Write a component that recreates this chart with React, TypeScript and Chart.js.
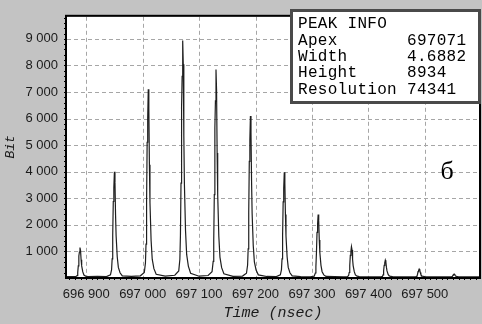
import React, { useEffect, useRef } from "react";
import { Chart, registerables } from "chart.js";

Chart.register(...registerables);

// Time axis (ns) and intensity (Bit)
const timeNs = [
  696866,
  696875, 696882, 696884, 696885, 696886, 696887, 696888, 696889, 696890, 696891, 696892, 696894, 696896, 696899, 696903,
  696920,
  696936, 696943, 696945, 696946, 696947, 696948, 696949, 696950, 696951, 696952, 696953, 696955, 696957, 696960, 696964,
  696980,
  696996, 697003, 697005, 697006, 697007, 697008, 697009, 697010, 697011, 697012, 697013, 697015, 697017, 697020, 697024,
  697040,
  697057, 697064, 697066, 697067, 697068, 697069, 697070, 697071, 697072, 697073, 697074, 697076, 697078, 697081, 697085,
  697100,
  697116, 697123, 697125, 697126, 697127, 697128, 697129, 697130, 697131, 697132, 697133, 697135, 697137, 697140, 697144,
  697160,
  697177, 697184, 697186, 697187, 697188, 697189, 697190, 697191, 697192, 697193, 697194, 697196, 697198, 697201, 697205,
  697220,
  697237, 697244, 697246, 697247, 697248, 697249, 697250, 697251, 697252, 697253, 697254, 697256, 697258, 697261, 697265,
  697280,
  697297, 697304, 697306, 697307, 697308, 697309, 697310, 697311, 697312, 697313, 697314, 697316, 697318, 697321, 697325,
  697340,
  697356, 697363, 697365, 697366, 697367, 697368, 697369, 697370, 697371, 697372, 697373, 697375, 697377, 697380, 697384,
  697400,
  697416, 697423, 697425, 697426, 697427, 697428, 697429, 697430, 697431, 697432, 697433, 697435, 697437, 697440, 697444,
  697460,
  697476, 697483, 697485, 697486, 697487, 697488, 697489, 697490, 697491, 697492, 697493, 697495, 697497, 697500, 697504,
  697520,
  697538, 697545, 697547, 697548, 697549, 697550, 697551, 697552, 697553, 697554, 697555, 697557, 697559, 697562, 697566,
  697580, 697596,
];

const bits = [
  55,
  55, 60, 95, 210, 460, 830, 980, 1150, 1030, 690, 460, 230, 115, 70, 55,
  60,
  55, 120, 320, 720, 1600, 2880, 3400, 4000, 3600, 2400, 1600, 800, 400, 200, 80,
  65,
  85, 210, 570, 1280, 2840, 5110, 6040, 7100, 6390, 4260, 2840, 1420, 710, 355, 140,
  70,
  105, 270, 710, 1610, 3570, 6430, 7590, 8934, 8040, 5360, 3570, 1790, 890, 450, 180,
  70,
  95, 240, 630, 1410, 3140, 5650, 6670, 7850, 7070, 4710, 3140, 1570, 790, 390, 160,
  65,
  75, 180, 490, 1100, 2440, 4390, 5190, 6100, 5490, 3660, 2440, 1220, 610, 305, 120,
  60,
  55, 120, 320, 720, 1590, 2870, 3380, 3980, 3580, 2390, 1590, 800, 400, 200, 80,
  55,
  50, 70, 190, 430, 960, 1720, 2030, 2390, 2150, 1430, 960, 480, 240, 120, 60,
  55,
  50, 55, 95, 210, 470, 850, 1000, 1180, 1060, 710, 470, 240, 120, 70, 55,
  50,
  50, 52, 60, 120, 270, 480, 570, 670, 600, 400, 270, 135, 80, 60, 50,
  50,
  50, 50, 55, 70, 135, 245, 290, 340, 305, 205, 135, 75, 60, 52, 50,
  50,
  50, 50, 50, 55, 65, 110, 130, 150, 135, 95, 70, 58, 52, 50, 50,
  50, 50,
];

const xTicks = [696900, 697000, 697100, 697200, 697300, 697400, 697500];
const yTicks = [1000, 2000, 3000, 4000, 5000, 6000, 7000, 8000, 9000];

const infoTitle = "PEAK INFO";
const infoLabels = ["Apex", "Width", "Height", "Resolution"];
const infoValues = ["697071", "4.6882", "8934", "74341"];
const panelLetter = "б";

const fmt = (v: number) => {
  const s = String(Math.round(v));
  return s.replace(/\B(?=(\d{3})+(?!\d))/g, " ");
};

const framePlugin = {
  id: "framePlugin",
  beforeDraw(chart: any) {
    const { ctx, chartArea: a } = chart;
    ctx.save();
    ctx.fillStyle = "#c3c3c3";
    ctx.fillRect(0, 0, chart.width, chart.height);
    ctx.fillStyle = "#ffffff";
    ctx.fillRect(a.left, a.top, a.right - a.left, a.bottom - a.top);
    ctx.restore();
  },
  beforeDatasetsDraw(chart: any) {
    const { ctx, chartArea: a, scales } = chart;
    ctx.save();
    ctx.strokeStyle = "#a6a6a6";
    ctx.lineWidth = 1;
    ctx.setLineDash([4, 3]);
    xTicks.forEach((t) => {
      const px = Math.round(scales.x.getPixelForValue(t)) + 0.5;
      ctx.beginPath();
      ctx.moveTo(px, a.top);
      ctx.lineTo(px, a.bottom);
      ctx.stroke();
    });
    yTicks.forEach((v) => {
      const py = Math.round(scales.y.getPixelForValue(v)) + 0.5;
      ctx.beginPath();
      ctx.moveTo(a.left, py);
      ctx.lineTo(a.right, py);
      ctx.stroke();
    });
    ctx.restore();
  },
  afterDatasetsDraw(chart: any) {
    const { ctx, chartArea: a, scales } = chart;
    ctx.save();
    ctx.strokeStyle = "#000000";
    ctx.lineWidth = 2;
    ctx.strokeRect(a.left - 1, a.top - 1, a.right - a.left + 2, a.bottom - a.top + 2);
    ctx.lineWidth = 1;
    const xs = scales.x;
    for (let t = Math.ceil(xs.min / 10) * 10; t <= xs.max; t += 10) {
      const px = Math.round(xs.getPixelForValue(t)) + 0.5;
      ctx.beginPath();
      ctx.moveTo(px, a.bottom);
      ctx.lineTo(px, a.bottom + 3);
      ctx.stroke();
    }
    const ys = scales.y;
    for (let v = 200; v <= ys.max; v += 200) {
      const py = Math.round(ys.getPixelForValue(v)) + 0.5;
      ctx.beginPath();
      ctx.moveTo(a.left - 3, py);
      ctx.lineTo(a.left, py);
      ctx.stroke();
    }

    const bx = 290, by = 9, bw = 191, bh = 95;
    ctx.fillStyle = "#ffffff";
    ctx.fillRect(bx, by, bw, bh);
    ctx.strokeStyle = "#4a4a4a";
    ctx.lineWidth = 3;
    ctx.strokeRect(bx + 1.5, by + 1.5, bw - 3, bh - 3);
    ctx.fillStyle = "#000000";
    ctx.font = '16px "Liberation Mono", "DejaVu Sans Mono", monospace';
    try { (ctx as any).letterSpacing = "0.3px"; } catch (e) {}
    ctx.textBaseline = "alphabetic";
    ctx.textAlign = "left";
    ctx.fillText(infoTitle, 298, 28);
    const rows = [44.5, 61, 77, 93.5];
    infoLabels.forEach((l, i) => {
      ctx.fillText(l, 298, rows[i]);
      ctx.fillText(infoValues[i], 407, rows[i]);
    });
    try { (ctx as any).letterSpacing = "0px"; } catch (e) {}

    ctx.font = '26px "Liberation Serif", serif';
    ctx.textAlign = "center";
    ctx.textBaseline = "middle";
    ctx.fillText(panelLetter, 447, 172);
    ctx.restore();
  },
};

export default function App() {
  const ref = useRef<HTMLCanvasElement | null>(null);
  useEffect(() => {
    document.body.style.margin = "0";
    const canvas = ref.current;
    if (!canvas) return;
    const data = timeNs.map((t, i) => ({ x: t, y: bits[i] }));
    const chart = new Chart(canvas, {
      type: "line",
      data: {
        datasets: [
          {
            data,
            borderColor: "#1e1e1e",
            borderWidth: 1.2,
            pointRadius: 0,
            tension: 0,
            fill: false,
          },
        ],
      },
      options: {
        animation: false,
        responsive: false,
        devicePixelRatio: 1,
        layout: { padding: { top: 7, right: 3, left: 0, bottom: 0 } },
        plugins: { legend: { display: false }, tooltip: { enabled: false } },
        scales: {
          x: {
            type: "linear",
            min: 696866,
            max: 697596,
            afterBuildTicks: (s: any) => {
              s.ticks = xTicks.map((v) => ({ value: v }));
            },
            afterFit: (s: any) => {
              s.height = 47;
            },
            border: { display: false },
            grid: { display: false, drawTicks: false },
            ticks: {
              padding: 10,
              maxRotation: 0,
              autoSkip: false,
              color: "#1a1a1a",
              font: { family: '"Liberation Sans", Arial, sans-serif', size: 13 },
              callback: (v: any) => fmt(Number(v)),
            },
            title: {
              display: true,
              text: "Time (nsec)",
              color: "#1a1a1a",
              padding: { top: 0, bottom: 2 },
              font: { family: '"Liberation Mono", monospace', size: 15, style: "italic" },
            },
          },
          y: {
            type: "linear",
            min: 40,
            max: 9830,
            afterBuildTicks: (s: any) => {
              s.ticks = yTicks.map((v) => ({ value: v }));
            },
            afterFit: (s: any) => {
              s.width = 67;
            },
            border: { display: false },
            grid: { display: false, drawTicks: false },
            ticks: {
              padding: 9,
              autoSkip: false,
              color: "#1a1a1a",
              font: { family: '"Liberation Sans", Arial, sans-serif', size: 13 },
              callback: (v: any) => fmt(Number(v)),
            },
            title: {
              display: true,
              text: "Bit",
              color: "#1a1a1a",
              padding: { top: 3, bottom: 0 },
              font: { family: '"Liberation Mono", monospace', size: 13, style: "italic" },
            },
          },
        },
      },
      plugins: [framePlugin],
    } as any);
    return () => chart.destroy();
  }, []);
  return <canvas ref={ref} width={482} height={324} style={{ display: "block" }} />;
}
